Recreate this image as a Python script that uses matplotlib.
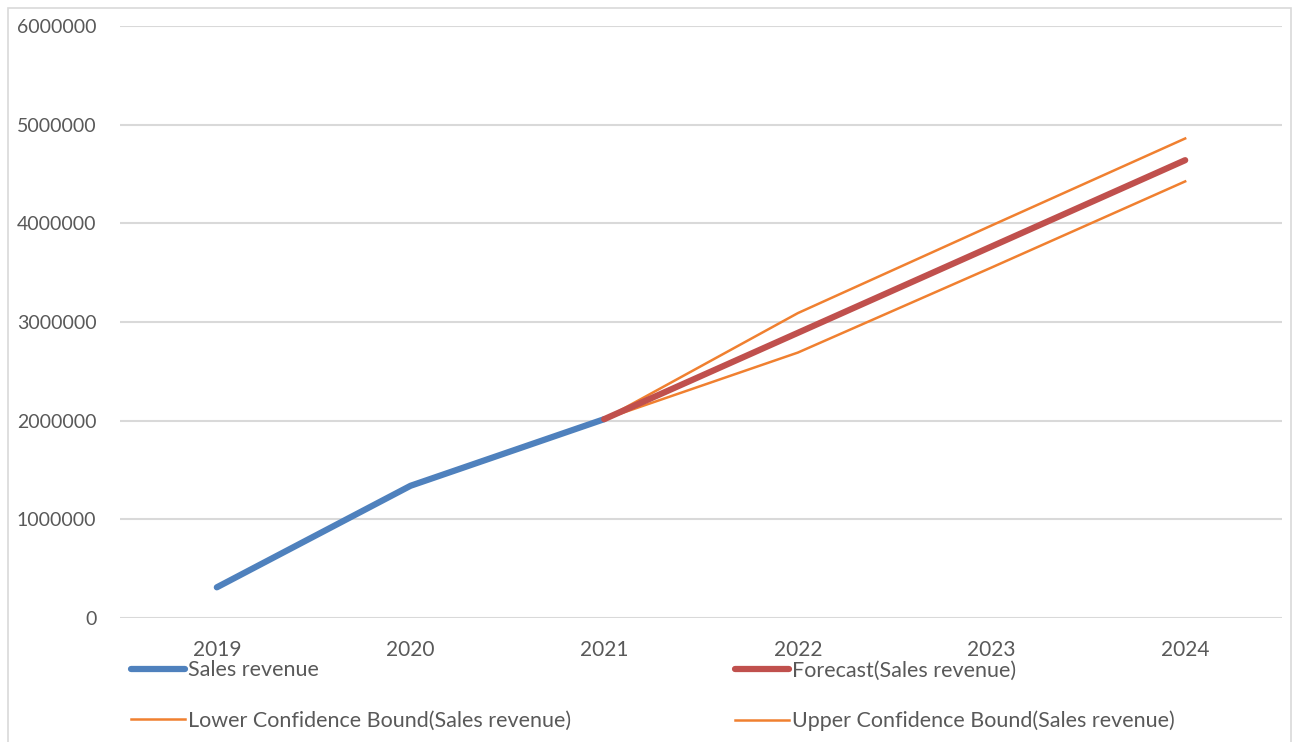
import matplotlib.pyplot as plt
from matplotlib.patches import Rectangle

years = ["2019", "2020", "2021", "2022", "2023", "2024"]
sales = [311000, 1340000, 2015000]
forecast = [2015000, 2890000, 3765000, 4640000]
lower_bound = [2015000, 2690000, 3552000, 4425000]
upper_bound = [2015000, 3090000, 3978000, 4860000]

plt.rcParams['font.family'] = ['Lato', 'DejaVu Sans']
text_color = "#595959"

fig = plt.figure(figsize=(12.99, 7.42), dpi=100)
ax = fig.add_axes([120 / 1299, 1 - 618 / 742, 1162 / 1299, 592 / 742])

# chart border
fig.patches.append(Rectangle((8 / 1299, -0.05), 1283 / 1299, 1.05 - 8 / 742,
                             transform=fig.transFigure, fill=False,
                             edgecolor="#d9d9d9", linewidth=1.2, zorder=0))

x_hist = list(range(len(sales)))
x_fc = list(range(len(sales) - 1, len(years)))

l_sales, = ax.plot(x_hist, sales, color="#4f81bd", linewidth=4.5,
                   solid_capstyle="round", label="Sales revenue")
l_lower, = ax.plot(x_fc, lower_bound, color="#f08030", linewidth=1.8,
                   label="Lower Confidence Bound(Sales revenue)")
l_upper, = ax.plot(x_fc, upper_bound, color="#f08030", linewidth=1.8,
                   label="Upper Confidence Bound(Sales revenue)")
l_fc, = ax.plot(x_fc, forecast, color="#c0504d", linewidth=4.5,
                solid_capstyle="round", label="Forecast(Sales revenue)")

ax.set_xlim(-0.5, len(years) - 0.5)
ax.set_ylim(0, 6000000)
ax.set_yticks(range(0, 6000001, 1000000))
ax.set_yticklabels([str(v) for v in range(0, 6000001, 1000000)])
ax.set_xticks(range(len(years)))
ax.set_xticklabels(years)
ax.yaxis.grid(True, color="#d9d9d9", linewidth=1.5)
ax.set_axisbelow(True)
for s in ax.spines.values():
    s.set_visible(False)
ax.tick_params(axis="both", length=0, labelsize=15, colors=text_color)
ax.tick_params(axis="y", pad=17, labelsize=14)
ax.tick_params(axis="x", pad=16)

# two rows: history + forecast on top, bounds below
leg = fig.legend([l_sales, l_lower, l_fc, l_upper],
                 [l_sales.get_label(), l_lower.get_label(), l_fc.get_label(), l_upper.get_label()],
                 loc="upper left", bbox_to_anchor=(112 / 1299, 1 - 641 / 742),
                 ncol=2, frameon=False, fontsize=15.5, handlelength=2.5,
                 handletextpad=0.15, columnspacing=7.6, labelspacing=1.4)
for t in leg.get_texts():
    t.set_color(text_color)

fig.savefig("out.png", dpi=100)
